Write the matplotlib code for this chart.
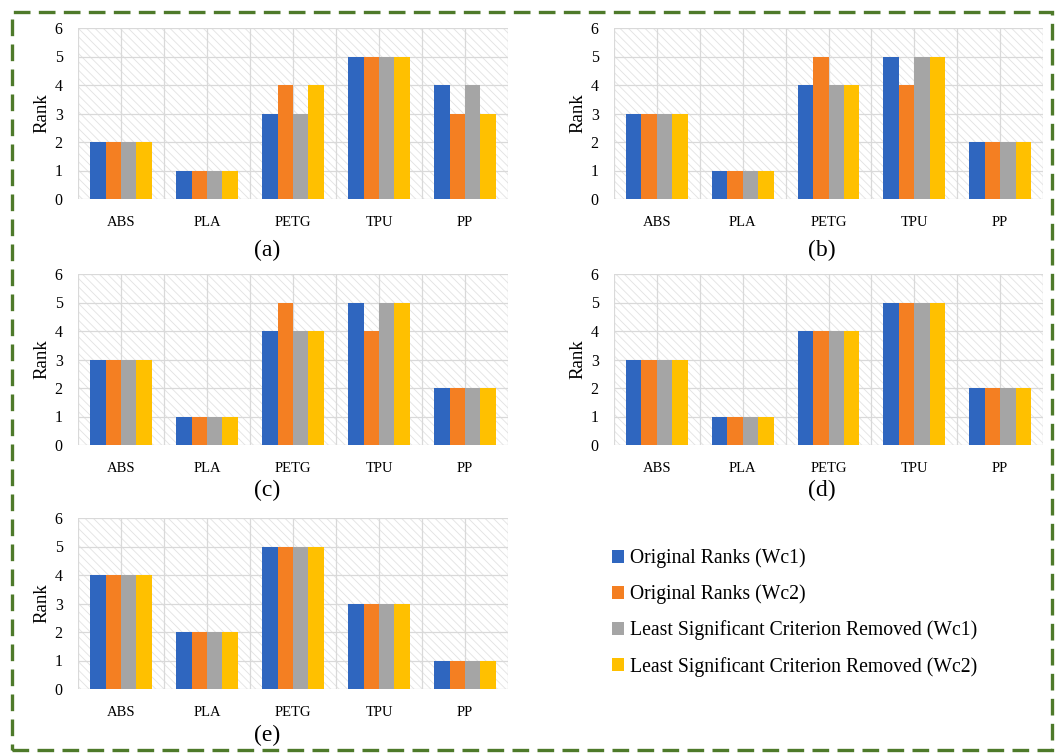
import matplotlib
matplotlib.use("Agg")
import matplotlib.pyplot as plt
import numpy as np
from matplotlib.patches import Rectangle, Patch

plt.rcParams['font.family'] = ['Liberation Serif', 'DejaVu Serif']
plt.rcParams['hatch.linewidth'] = 0.6
plt.rcParams['hatch.color'] = '#e2e2e2'

materials = ['ABS', 'PLA', 'PETG', 'TPU', 'PP']
series_names = ['Original Ranks (Wc1)', 'Original Ranks (Wc2)',
                'Least Significant Criterion Removed (Wc1)',
                'Least Significant Criterion Removed (Wc2)']
colors = ['#2F66BF', '#F47F22', '#A5A5A5', '#FFC000']

# ranks per scenario, one list per series (Wc1, Wc2, LSC-Wc1, LSC-Wc2)
ranks_a = [[2, 1, 3, 5, 4], [2, 1, 4, 5, 3], [2, 1, 3, 5, 4], [2, 1, 4, 5, 3]]
ranks_b = [[3, 1, 4, 5, 2], [3, 1, 5, 4, 2], [3, 1, 4, 5, 2], [3, 1, 4, 5, 2]]
ranks_c = [[3, 1, 4, 5, 2], [3, 1, 5, 4, 2], [3, 1, 4, 5, 2], [3, 1, 4, 5, 2]]
ranks_d = [[3, 1, 4, 5, 2], [3, 1, 4, 5, 2], [3, 1, 4, 5, 2], [3, 1, 4, 5, 2]]
ranks_e = [[4, 2, 5, 3, 1], [4, 2, 5, 3, 1], [4, 2, 5, 3, 1], [4, 2, 5, 3, 1]]
panel_tags = ['(a)', '(b)', '(c)', '(d)', '(e)']

W, H = 1058, 755
fig = plt.figure(figsize=(W / 100, H / 100), dpi=100)

# (left px, right px, top px, bottom px) of each plot area
boxes = [(78, 508, 28, 199), (614, 1043, 28, 199),
         (78, 508, 274, 445), (614, 1043, 274, 445),
         (78, 508, 518, 689)]
tag_pos = [(267, 250), (822, 250), (267, 490), (822, 490), (267, 735)]


def draw_panel(ax, ranks):
    x = np.arange(len(materials))
    bw = 0.18
    ax.add_patch(Rectangle((0, 0), 1, 1, transform=ax.transAxes, facecolor='white',
                           hatch='\\\\\\\\', edgecolor='#e2e2e2', linewidth=0, zorder=0))
    for k, vals in enumerate(ranks):
        ax.bar(x + (k - 1.5) * bw, vals, bw, color=colors[k], zorder=3)
    ax.set_xlim(-0.5, len(materials) - 0.5)
    ax.set_ylim(0, 6)
    ax.set_yticks(range(7))
    ax.set_xticks(x)
    ax.set_xticklabels(materials)
    ax.tick_params(axis='y', length=0, labelsize=11.5, pad=11)
    ax.tick_params(axis='x', length=0, pad=12, labelsize=10.5)
    for v in range(7):
        ax.axhline(v, color='#d9d9d9', linewidth=0.9, zorder=1)
    for v in np.arange(-0.5, len(materials), 0.5):
        ax.axvline(v, color='#d9d9d9', linewidth=0.9, zorder=1)
    for s in ax.spines.values():
        s.set_visible(False)
    ax.set_ylabel('Rank', fontsize=13.5, labelpad=3)


for i, ranks in enumerate([ranks_a, ranks_b, ranks_c, ranks_d, ranks_e]):
    l, r, t, b = boxes[i]
    ax = fig.add_axes([l / W, 1 - b / H, (r - l) / W, (b - t) / H])
    draw_panel(ax, ranks)
    tx, ty = tag_pos[i]
    fig.text(tx / W, 1 - ty / H, panel_tags[i], fontsize=17, ha='center', va='center')

handles = [Patch(facecolor=c, edgecolor='none') for c in colors]
fig.legend(handles=handles, labels=series_names, loc='upper left',
           bbox_to_anchor=(594 / W, 1 - 531 / H), frameon=False, fontsize=14.2,
           handlelength=0.6, handleheight=0.6, handletextpad=0.3,
           labelspacing=0.82)

# dashed frame around the whole figure
fig.add_artist(Rectangle((12 / W, 5 / H), 1040 / W, 738 / H, transform=fig.transFigure,
                         fill=False, edgecolor='#4E7A2A', linewidth=2.4,
                         linestyle=(0, (5, 2.5))))

fig.savefig('out.png', dpi=100)
